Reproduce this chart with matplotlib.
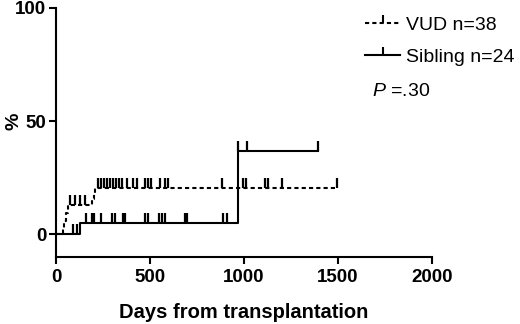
import numpy as np
import matplotlib
matplotlib.use('Agg')
from matplotlib import pyplot as plt
from matplotlib.path import Path
from matplotlib.lines import Line2D

plt.rcParams['font.family'] = ['Liberation Sans', 'DejaVu Sans']
plt.rcParams['mathtext.fontset'] = 'custom'
plt.rcParams['mathtext.it'] = 'Liberation Sans:italic'
plt.rcParams['mathtext.rm'] = 'Liberation Sans'

# cumulative incidence (%) step data
vud_event_days = [38, 45, 52, 62, 190, 200, 210]
vud_levels = [3, 6, 9.5, 12.8, 15.5, 18, 20.5]
vud_censor_days = [74, 99, 129, 156,
                   223, 239, 255, 271, 287, 303, 319, 335, 351, 378, 410, 431,
                   473, 489, 505, 553, 580, 596, 883, 995, 1011, 1112, 1128,
                   1202, 1495]

sib_event_days = [128, 968]
sib_levels = [5, 36.7]
sib_censor_days = [88, 112, 158, 190, 204, 238, 296, 314, 358, 367, 473, 491,
                   548, 562, 580, 686, 695, 890, 908, 968, 1016, 1394]

x_ticks = [0, 500, 1000, 1500, 2000]
y_ticks = [0, 50, 100]

# upward censor tick (path from 0 to 1 -> drawn from the point upwards)
tick_mark = Path([(0, 0), (0, 1)])
dash = (0, (2, 1.5))


def step_xy(events, levels, censors):
    x = [0] + list(events) + [max(censors)]
    y = [0] + list(levels) + [levels[-1]]
    return x, y


def censor_levels(events, levels, censors):
    idx = np.searchsorted(events, censors, side='right')
    lv = np.concatenate([[0], levels])
    return lv[idx]


fig = plt.figure(figsize=(5.2, 3.24), dpi=100)
ax = fig.add_axes([56 / 520, 67 / 324, 376 / 520, 249 / 324])

vx, vy = step_xy(vud_event_days, vud_levels, vud_censor_days)
sx, sy = step_xy(sib_event_days, sib_levels, sib_censor_days)

ax.step(vx, vy, where='post', color='black', lw=1.5, linestyle=dash, clip_on=False)
ax.step(sx, sy, where='post', color='black', lw=1.5, clip_on=False)

ax.plot(vud_censor_days, censor_levels(vud_event_days, vud_levels, vud_censor_days),
        linestyle='none', marker=tick_mark, markersize=14.5, mew=1.6, color='black', clip_on=False)
ax.plot(sib_censor_days, censor_levels(sib_event_days, sib_levels, sib_censor_days),
        linestyle='none', marker=tick_mark, markersize=14.5, mew=1.6, color='black', clip_on=False)

ax.set_xlim(0, 2000)
ax.set_ylim(-10, 100)
ax.set_xticks(x_ticks)
ax.set_yticks(y_ticks)
for s in ['top', 'right']:
    ax.spines[s].set_visible(False)
for s in ['left', 'bottom']:
    ax.spines[s].set_linewidth(1.5)
ax.tick_params(width=1.5, length=5, labelsize=13.5)
ax.tick_params(axis='x', pad=4)
ax.tick_params(axis='y', pad=2)
for lab in ax.get_xticklabels() + ax.get_yticklabels():
    lab.set_fontweight('bold')

ax.set_xlabel('Days from transplantation', fontsize=14.5, fontweight='bold')
ax.xaxis.set_label_coords(0.5, -0.185)
ax.set_ylabel('%', fontsize=14, fontweight='bold')
ax.yaxis.set_label_coords(-0.09, 0.546)

handles = [
    Line2D([], [], color='black', lw=1.5, linestyle=dash, marker=tick_mark, markersize=12, mew=1.5),
    Line2D([], [], color='black', lw=1.5, marker=tick_mark, markersize=12, mew=1.5),
]
fig.legend(handles, ['VUD n=38', 'Sibling n=24'], loc='upper left',
           bbox_to_anchor=(365 / 520, 1 - 16 / 324), frameon=False, fontsize=14,
           handlelength=1.8, handletextpad=0.3, borderpad=0, borderaxespad=0,
           labelspacing=0.75, numpoints=1)

fig.text(372 / 520, 1 - 91 / 324, '$P$ =.30', fontsize=14, va='center', ha='left')

fig.savefig('out.png', dpi=100)
